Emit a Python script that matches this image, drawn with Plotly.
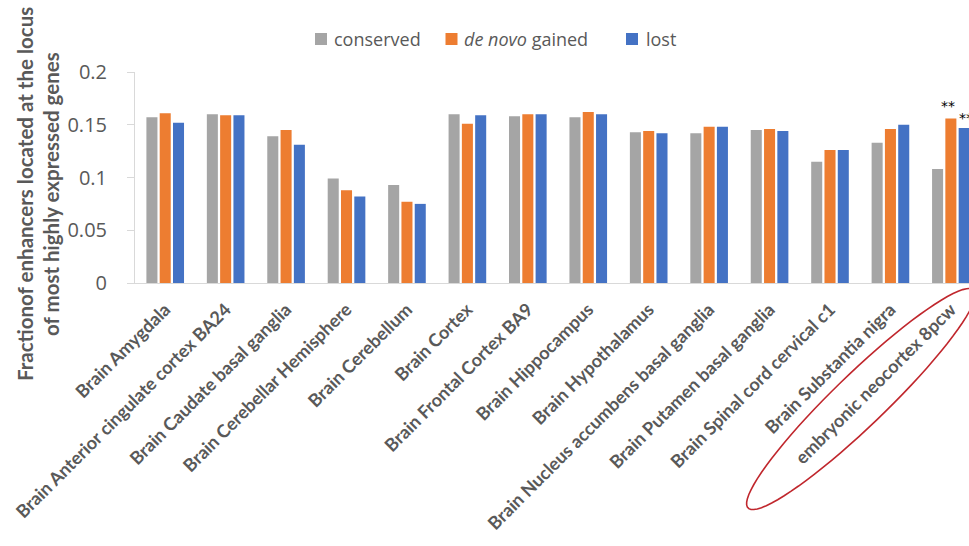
import numpy as np
import plotly.graph_objects as go

# Tissue categories and the three enhancer classes
categories = [
    "Brain Amygdala",
    "Brain Anterior cingulate cortex BA24",
    "Brain Caudate basal ganglia",
    "Brain Cerebellar Hemisphere",
    "Brain Cerebellum",
    "Brain Cortex",
    "Brain Frontal Cortex BA9",
    "Brain Hippocampus",
    "Brain Hypothalamus",
    "Brain Nucleus accumbens basal ganglia",
    "Brain Putamen basal ganglia",
    "Brain Spinal cord cervical c1",
    "Brain Substantia nigra",
    "embryonic neocortex 8pcw",
]
conserved = [0.157, 0.160, 0.139, 0.099, 0.093, 0.160, 0.158, 0.157, 0.143, 0.142, 0.145, 0.115, 0.133, 0.108]
de_novo_gained = [0.161, 0.159, 0.145, 0.088, 0.077, 0.151, 0.160, 0.162, 0.144, 0.148, 0.146, 0.126, 0.146, 0.156]
lost = [0.152, 0.159, 0.131, 0.082, 0.075, 0.159, 0.160, 0.160, 0.142, 0.148, 0.144, 0.126, 0.150, 0.147]
y_ticks = [0, 0.05, 0.1, 0.15, 0.2]
y_tick_text = ["0", "0.05", "0.1", "0.15", "0.2"]

series_names = ["conserved", "<i>de novo</i> gained", "lost"]
colors = ["#A5A5A5", "#ED7D31", "#4472C4"]

W, H = 969, 546
ML, MR, MT, MB = 135, 0, 72, 263
BARGAP = 0.34
TEXT = "#595959"


def px_x(p):
    return (p - ML) / (W - ML - MR)


def px_y(p):
    return (H - MB - p) / (H - MT - MB)


fig = go.Figure()
for name, vals, col in zip(series_names, [conserved, de_novo_gained, lost], colors):
    fig.add_trace(go.Bar(
        x=categories, y=vals, name=name,
        marker=dict(color=col, line=dict(width=0)),
        showlegend=False,
    ))

# Significance marks on the embryonic sample
slot = (1 - BARGAP) / 3
last = len(categories) - 1
fig.add_annotation(x=last - 0.05, y=de_novo_gained[last], text="**", showarrow=False,
                   yanchor="bottom", yshift=2, font=dict(family="DejaVu Sans", size=14, color="#000000"))
fig.add_annotation(x=last + slot - 0.12, y=lost[last], text="**", showarrow=False,
                   xanchor="left", yanchor="bottom", yshift=0,
                   font=dict(family="DejaVu Sans", size=14, color="#000000"))

# Legend drawn as swatches plus labels
legend_items = [(321, 332, "conserved"), (451.5, 462, "<i>de novo</i> gained"), (632, 644, "lost")]
for (sx, tx, label), col in zip(legend_items, colors):
    fig.add_shape(type="rect", xref="paper", yref="paper",
                  x0=px_x(sx - 6), x1=px_x(sx + 6), y0=px_y(45), y1=px_y(33),
                  fillcolor=col, line=dict(width=0))
    fig.add_annotation(xref="paper", yref="paper", x=px_x(tx), y=px_y(39),
                       xanchor="left", yanchor="middle", text=label, showarrow=False,
                       font=dict(family="Open Sans", size=18, color=TEXT))

# Two-line rotated y-axis title
for xc, line in [(25, "Fractionof enhancers located at the locus"), (51, "of most highly expressed genes")]:
    fig.add_annotation(xref="paper", yref="paper", x=px_x(xc), y=px_y(194),
                       xanchor="center", yanchor="middle", text=line, textangle=-90,
                       showarrow=False, font=dict(family="Lato", size=20.5, color=TEXT, weight="bold"))

# Red ellipse around the embryonic label
cx, cy = 861, 399
ux, uy = np.array([226, -218]) / np.hypot(226, 218)
a_len, b_len = 157, 26
t = np.linspace(0, 2 * np.pi, 80)
ex = cx + a_len * np.cos(t) * ux - b_len * np.sin(t) * uy
ey = cy + a_len * np.cos(t) * uy + b_len * np.sin(t) * ux
path = "M " + " L ".join(f"{px_x(x):.5f},{px_y(y):.5f}" for x, y in zip(ex, ey)) + " Z"
fig.add_shape(type="path", xref="paper", yref="paper", path=path,
              line=dict(color="#C0272D", width=1.6))

fig.update_layout(
    width=W, height=H,
    margin=dict(l=ML, r=MR, t=MT, b=MB, pad=0),
    paper_bgcolor="white", plot_bgcolor="white",
    barmode="group", bargap=BARGAP, bargroupgap=0.17,
    xaxis=dict(
        type="category", range=[-0.5, 13.3], tickangle=-45,
        showline=True, linecolor="#D9D9D9", linewidth=1,
        ticks="outside", ticklen=8, tickcolor="rgba(0,0,0,0)",
        showgrid=False, zeroline=False,
        tickfont=dict(family="Lato", size=18, color=TEXT, weight="bold"),
    ),
    yaxis=dict(
        range=[0, 0.2], tickvals=y_ticks, ticktext=y_tick_text,
        showline=True, linecolor="#D9D9D9", linewidth=1,
        ticks="outside", ticklen=7, tickcolor="#D9D9D9",
        ticklabelstandoff=16,
        showgrid=False, zeroline=False,
        tickfont=dict(family="Open Sans", size=20, color=TEXT),
    ),
)

fig.write_html("out.html")
